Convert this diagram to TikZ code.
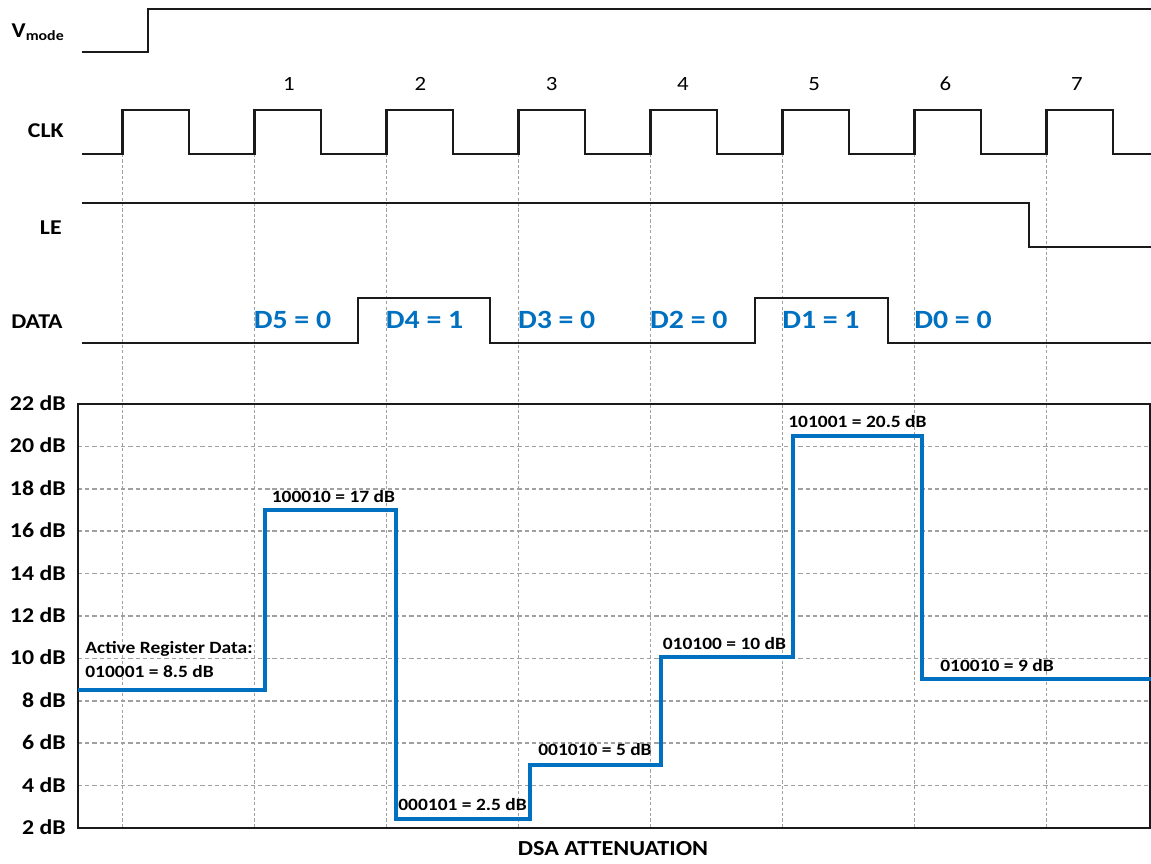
\documentclass[tikz,border=0pt]{standalone}
\usepackage{fontspec}
\setmainfont{Carlito}[FakeStretch=1.13]
\usepackage{xcolor}
\usepackage{tikz}
\definecolor{sig}{HTML}{1A1A1A}
\definecolor{gridc}{HTML}{A0A0A0}
\definecolor{dsablue}{HTML}{0070C0}
\tikzset{
  wave/.style={draw=sig, line width=1.3pt},
  vgrid/.style={draw=gridc, line width=1pt, dash pattern=on 1.8pt off 1.3pt},
  hgrid/.style={draw=gridc, line width=1pt, dash pattern=on 2.4pt off 1.7pt},
  chartframe/.style={draw=sig, line width=1.1pt},
  trace/.style={draw=dsablue, line width=2pt},
  siglab/.style={font=\bfseries\fontsize{12}{14}\selectfont, inner sep=0pt, anchor=base east},
  numlab/.style={font=\fontsize{11.5}{13}\selectfont, inner sep=0pt, anchor=base},
  bitlab/.style={text=dsablue, font=\bfseries\fontsize{15}{18}\selectfont, inner sep=0pt, anchor=base},
  axlab/.style={font=\bfseries\fontsize{12}{14}\selectfont, inner sep=0pt, anchor=base east},
  steplab/.style={font=\bfseries\fontsize{9.8}{11}\selectfont, inner sep=0pt, anchor=base west},
}
\begin{document}
\begin{tikzpicture}[x=0.02cm, y=-0.02cm]
  \useasboundingbox (0,0) rectangle (1151,863);
  % grid
  \foreach \k in {0,...,7}
    \draw[vgrid] ({122.5+132*\k},154) -- ({122.5+132*\k},828);
  \foreach \v in {4,6,...,20}
    \draw[hgrid] (78,{404+(22-\v)*21.2}) -- (1150,{404+(22-\v)*21.2});
  \draw[chartframe] (78,404) rectangle (1150,828);
  \draw[chartframe, line width=1.5pt] (78,404) -- (78,828) -- (1150,828);

  % waveforms
  \draw[wave] (82,52) -- (148,52) -- (148,9) -- (1151,9);
  \draw[wave] (82,154) \foreach \k in {0,...,7} { -- ({122.5+132*\k},154) |- ({189+132*\k},110) -- ++(0,44) } -- (1151,154);
  \draw[wave] (82,203) -- (1029,203) -- (1029,247) -- (1151,247);
  \draw[wave] (82,343) -- (358,343) -- (358,298) -- (490,298) -- (490,343)
    -- (755,343) -- (755,298) -- (888,298) -- (888,343) -- (1151,343);
  \draw[trace] (78,690) -- (265,690) -- (265,510) -- (396,510) -- (396,819)
    -- (530,819) -- (530,765) -- (661,765) -- (661,657) -- (793,657)
    -- (793,436) -- (922,436) -- (922,679) -- (1151,679);

  % labels
  \node[siglab] (vmode) at (65,37) {V\textsubscript{mode}};
  \node[siglab] (clk) at (64,137) {CLK};
  \node[siglab] (le) at (62,234) {LE};
  \node[siglab] (data) at (63,328) {DATA};
  \foreach \n in {1,...,7}
    \node[numlab] (n\n) at ({289+131.3*(\n-1)},90) {\n};
  \foreach \b/\t [count=\i from 0] in {5/0,4/1,3/0,2/0,1/1,0/0}
    \node[bitlab] (d\b) at ({292.5+132.1*\i},328) {D\b\ = \t};
  \foreach \v in {2,4,...,22}
    \node[axlab] (db\v) at (66,{410.5+(22-\v)*21.2}) {\v\ dB};

  \node[steplab] (act) at (85,653) {Active Register Data:};
  \node[steplab] (s0) at (85,677) {010001 = 8.5 dB};
  \node[steplab] (s1) at (271.5,502) {100010 = 17 dB};
  \node[steplab] (s2) at (398,810.5) {000101 = 2.5 dB};
  \node[steplab] (s3) at (538,755.5) {001010 = 5 dB};
  \node[steplab] (s4) at (662.5,649) {010100 = 10 dB};
  \node[steplab] (s5) at (788,427.5) {101001 = 20.5 dB};
  \node[steplab] (s6) at (940,671) {010010 = 9 dB};
  \node[font=\bfseries\fontsize{12.2}{14}\selectfont, inner sep=0pt] (xlab) at (613,849) {DSA ATTENUATION};
\end{tikzpicture}
\end{document}
